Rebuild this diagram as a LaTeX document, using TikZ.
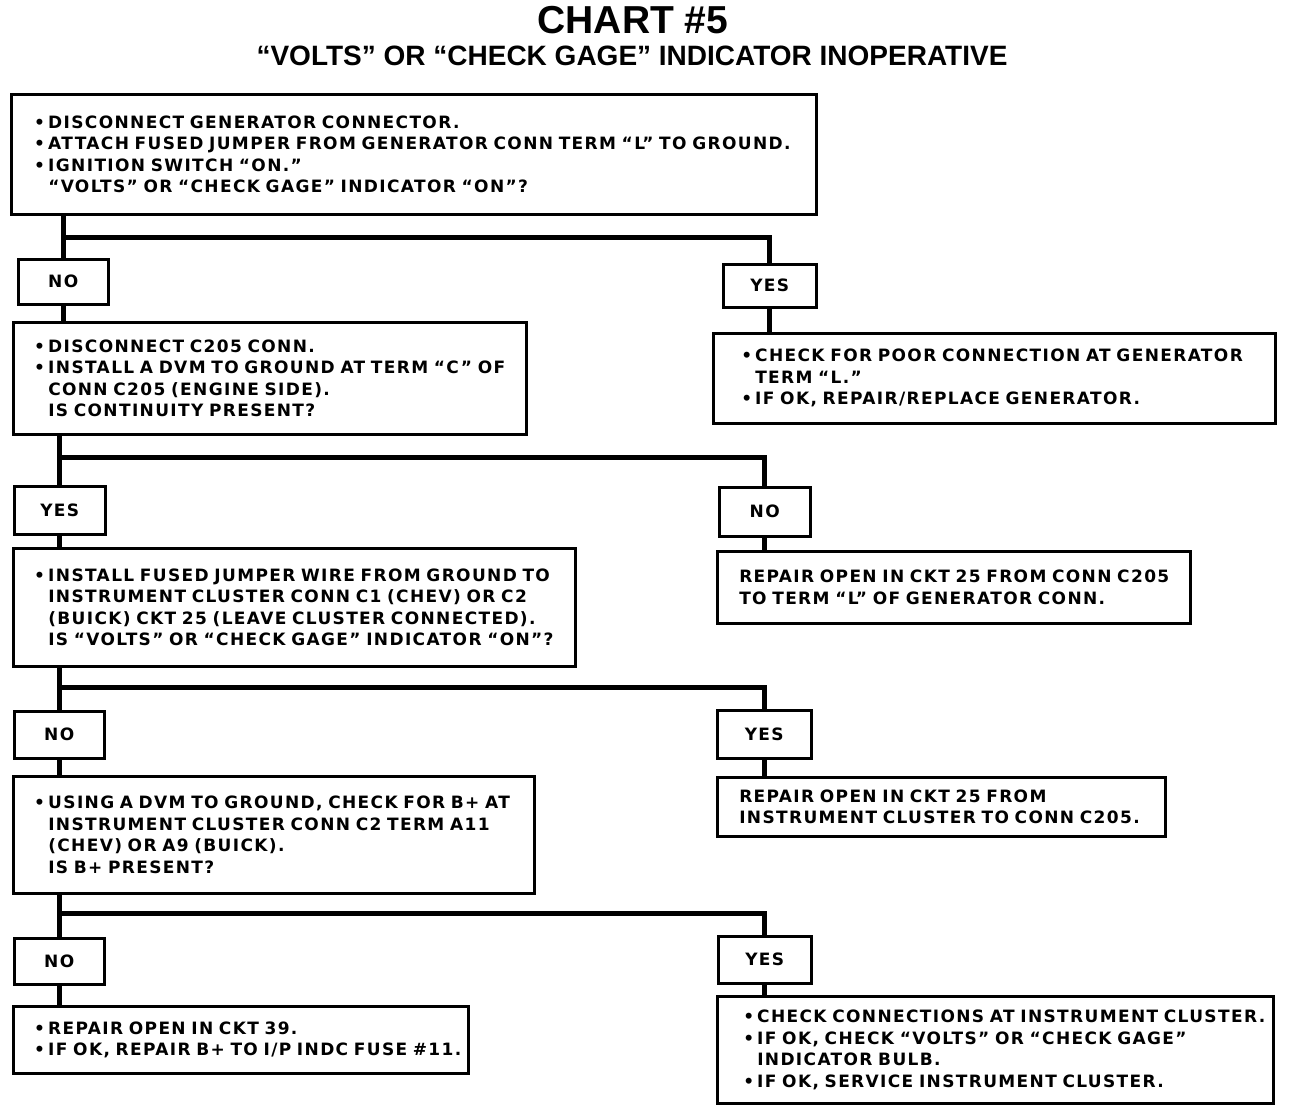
\documentclass[tikz,border=0pt]{standalone}
\usepackage{fontspec}
\setmainfont{Liberation Sans}
\newfontfamily\chartfont{DejaVu Sans}[LetterSpace=8]
\usetikzlibrary{positioning}
\newcommand\bul[1]{\mbox{\makebox[14pt][l]{•}#1}}
\newcommand\hang[1]{\mbox{\hspace*{14pt}#1}}

\begin{document}
\begin{tikzpicture}[x=1pt, y=-1pt,
  box/.style={draw, line width=2.5pt, anchor=north west, align=left, inner ysep=0pt,
    font=\chartfont\bfseries\fontsize{17}{21.5}\selectfont},
  ans/.style={draw, line width=2.5pt, anchor=north west, inner sep=0pt,
    font=\chartfont\bfseries\fontsize{17}{20}\selectfont},
  wire/.style={line width=5pt}]
  \useasboundingbox (0,0) rectangle (1296,1112);
  % heading
  \node[font=\bfseries\fontsize{39}{40}\selectfont] (title) at (633,20) {CHART \#5};
  \node[font=\bfseries\fontsize{28}{30}\selectfont] (sub) at (632,56) {“VOLTS” OR “CHECK GAGE” INDICATOR INOPERATIVE};
  % first test
  \node[box, inner xsep=23pt, text width=759pt, minimum height=120pt] (b1) at (10,93)
    {\bul{DISCONNECT GENERATOR CONNECTOR.}\\
     \bul{ATTACH FUSED JUMPER FROM GENERATOR CONN TERM “L” TO GROUND.}\\
     \bul{IGNITION SWITCH “ON.”}\\
     \hang{“VOLTS” OR “CHECK GAGE” INDICATOR “ON”?}};
  \node[ans, minimum width=90pt, minimum height=45pt] (no1) at (17,258) {NO};
  \node[ans, minimum width=93pt, minimum height=43pt] (yes1) at (722,263) {YES};
  \node[box, inner xsep=21pt, text width=471pt, minimum height=112pt] (b2) at (12,321)
    {\bul{DISCONNECT C205 CONN.}\\
     \bul{INSTALL A DVM TO GROUND AT TERM “C” OF}\\
     \hang{CONN C205 (ENGINE SIDE).}\\
     \hang{IS CONTINUITY PRESENT?}};
  \node[box, inner xsep=28pt, text width=506pt, minimum height=90pt] (r1) at (712,332)
    {\bul{CHECK FOR POOR CONNECTION AT GENERATOR}\\
     \hang{TERM “L.”}\\
     \bul{IF OK, REPAIR/REPLACE GENERATOR.}};
  \coordinate (j1) at (no1.north |- 0,237);
  \draw[wire] (b1.south -| no1.north) -- (no1.north);
  \draw[wire] (j1) -| (yes1.north);
  \draw[wire] (no1.south) -- (b2.north -| no1.south);
  \draw[wire] (yes1.south) -- (r1.north -| yes1.south);
  % continuity
  \node[ans, minimum width=91pt, minimum height=48pt] (yes2) at (13,485) {YES};
  \node[ans, minimum width=91pt, minimum height=49pt] (no2) at (718,486) {NO};
  \node[box, inner xsep=21pt, text width=520pt, minimum height=118pt] (b3) at (12,547)
    {\bul{INSTALL FUSED JUMPER WIRE FROM GROUND TO}\\
     \hang{INSTRUMENT CLUSTER CONN C1 (CHEV) OR C2}\\
     \hang{(BUICK) CKT 25 (LEAVE CLUSTER CONNECTED).}\\
     \hang{IS “VOLTS” OR “CHECK GAGE” INDICATOR “ON”?}};
  \node[box, inner xsep=22pt, text width=429pt, minimum height=72pt] (r2) at (716,550)
    {REPAIR OPEN IN CKT 25 FROM CONN C205\\
     TO TERM “L” OF GENERATOR CONN.};
  \coordinate (j2) at (yes2.north |- 0,457);
  \draw[wire] (b2.south -| yes2.north) -- (yes2.north);
  \draw[wire] (j2) -| (no2.north);
  \draw[wire] (yes2.south) -- (b3.north -| yes2.south);
  \draw[wire] (no2.south) -- (r2.north -| no2.south);
  % jumper to cluster
  \node[ans, minimum width=90pt, minimum height=47pt] (no3) at (13,710) {NO};
  \node[ans, minimum width=94pt, minimum height=48pt] (yes3) at (716,709) {YES};
  \node[box, inner xsep=21pt, text width=479pt, minimum height=117pt] (b4) at (12,775)
    {\bul{USING A DVM TO GROUND, CHECK FOR B+ AT}\\
     \hang{INSTRUMENT CLUSTER CONN C2 TERM A11}\\
     \hang{(CHEV) OR A9 (BUICK).}\\
     \hang{IS B+ PRESENT?}};
  \node[box, inner xsep=22pt, text width=404pt, minimum height=59pt] (r3) at (716,776)
    {REPAIR OPEN IN CKT 25 FROM\\
     INSTRUMENT CLUSTER TO CONN C205.};
  \coordinate (j3) at (no3.north |- 0,687);
  \draw[wire] (b3.south -| no3.north) -- (no3.north);
  \draw[wire] (j3) -| (yes3.north);
  \draw[wire] (no3.south) -- (b4.north -| no3.south);
  \draw[wire] (yes3.south) -- (r3.north -| yes3.south);
  % B+ check
  \node[ans, minimum width=90pt, minimum height=46pt] (no4) at (13,937) {NO};
  \node[ans, minimum width=93pt, minimum height=47pt] (yes4) at (717,935) {YES};
  \node[box, inner xsep=21pt, text width=413pt, minimum height=67pt] (b5) at (12,1005)
    {\bul{REPAIR OPEN IN CKT 39.}\\
     \bul{IF OK, REPAIR B+ TO I/P INDC FUSE \#11.}};
  \node[box, inner xsep=26pt, text width=504pt, minimum height=107pt] (r4) at (716,995)
    {\bul{CHECK CONNECTIONS AT INSTRUMENT CLUSTER.}\\
     \bul{IF OK, CHECK “VOLTS” OR “CHECK GAGE”}\\
     \hang{INDICATOR BULB.}\\
     \bul{IF OK, SERVICE INSTRUMENT CLUSTER.}};
  \coordinate (j4) at (no4.north |- 0,913);
  \draw[wire] (b4.south -| no4.north) -- (no4.north);
  \draw[wire] (j4) -| (yes4.north);
  \draw[wire] (no4.south) -- (b5.north -| no4.south);
  \draw[wire] (yes4.south) -- (r4.north -| yes4.south);
\end{tikzpicture}
\end{document}
